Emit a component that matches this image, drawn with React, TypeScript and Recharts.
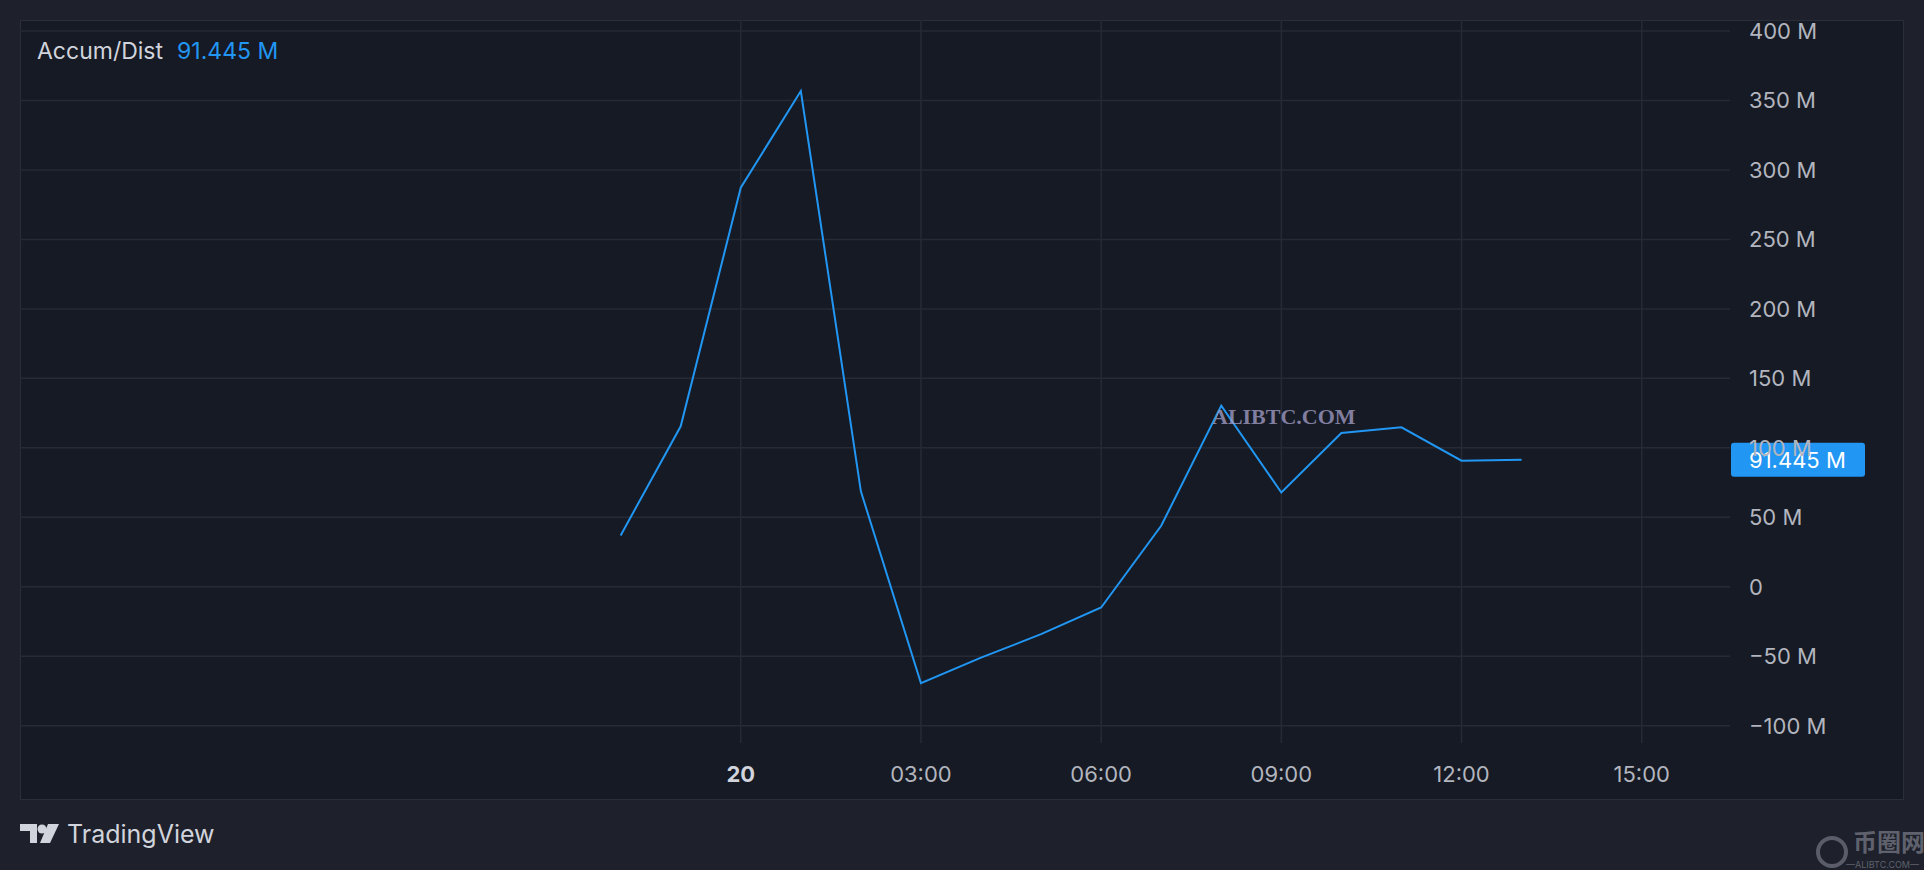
import { CartesianGrid, Line, LineChart, ReferenceLine, XAxis, YAxis } from 'recharts';

// hours relative to 00:00 on the 20th
const hours = [-2, -1, 0, 1, 2, 3, 4, 5, 6, 7, 8, 9, 10, 11, 12, 13];
const accumDist = [37.0, 115.5, 287.2, 356.8, 68.7, -69.4, -51.0, -34.1, -14.9, 43.9, 130.4, 67.9, 110.7, 114.8, 90.8, 91.445];
const timeTicks = [0, 3, 6, 9, 12, 15];
const valueTicks = [-100, -50, 0, 50, 100, 150, 200, 250, 300, 350, 400];
const lastValue = accumDist[accumDist.length - 1];

const data = hours.map((h, i) => ({ h, ad: accumDist[i] }));

const FONT = 'Inter, "Noto Sans", sans-serif';
const TEXT = '#b2b5be';
const BLUE = '#2196f3';
const GRID = '#262a35';

const fmtValue = (v: number) => (v === 0 ? '0' : `${v < 0 ? '\u2212' : ''}${Math.abs(v)}\u00a0M`);
const fmtTime = (h: number) => (h === 0 ? '20' : `${String(h).padStart(2, '0')}:00`);

function TimeTick({ x, y, payload }: any) {
  const bold = payload.value === 0;
  return (
    <text x={x} y={y + 31} textAnchor="middle" dominantBaseline="central" fill={bold ? '#d1d4dc' : TEXT} fontSize={22} fontWeight={bold ? 700 : 400} fontFamily={FONT}>
      {fmtTime(payload.value)}
    </text>
  );
}

function ValueTick({ x, y, payload }: any) {
  return (
    <text x={x} y={y} textAnchor="start" dominantBaseline="central" fill={TEXT} fontSize={22} fontFamily={FONT}>
      {fmtValue(payload.value)}
    </text>
  );
}

function PriceLabel({ viewBox }: any) {
  const x = viewBox.x + viewBox.width + 1;
  const y = viewBox.y;
  return (
    <g>
      <rect x={x} y={y - 17} width={134} height={34} rx={3} fill={BLUE} />
      <text x={x + 18} y={y} dominantBaseline="central" fill="#ffffff" fontSize={22} fontFamily={FONT}>
        {`${lastValue.toFixed(3)}\u00a0M`}
      </text>
    </g>
  );
}

export default function App() {
  return (
    <div style={{ position: 'absolute', left: 0, top: 0, width: 1924, height: 870, background: '#1e212b', overflow: 'hidden', fontFamily: FONT }}>
      <div style={{ position: 'absolute', left: 20, top: 20, width: 1882, height: 778, background: '#161a24', border: '1px solid #2a2e39' }} />
      <div style={{ position: 'absolute', left: 0, top: 0 }}>
        <LineChart width={1924} height={870} data={data} margin={{ top: 20, right: 24, bottom: 71, left: 20 }}>
          <CartesianGrid stroke={GRID} strokeWidth={1.5} syncWithTicks />
          <XAxis
            dataKey="h"
            type="number"
            domain={[-12, 16.47]}
            ticks={timeTicks}
            axisLine={false}
            tickLine={false}
            tickSize={0}
            tickMargin={0}
            height={56}
            tick={<TimeTick />}
            allowDataOverflow
          />
          <YAxis
            orientation="right"
            type="number"
            domain={[-112.4, 407.9]}
            ticks={valueTicks}
            axisLine={false}
            tickLine={false}
            tickSize={0}
            tickMargin={19}
            width={170}
            tick={<ValueTick />}
            allowDataOverflow
          />
          <ReferenceLine y={lastValue} stroke="none" label={<PriceLabel />} />
          <Line type="linear" dataKey="ad" stroke={BLUE} strokeWidth={2} dot={false} activeDot={false} isAnimationActive={false} />
        </LineChart>
      </div>
      <div style={{ position: 'absolute', left: 37, top: 37, fontSize: 23, color: '#d1d4dc', whiteSpace: 'nowrap' }}>
        Accum/Dist
        <span style={{ color: BLUE, marginLeft: 14 }}>91.445{'\u00a0'}M</span>
      </div>
      <div style={{ position: 'absolute', left: 1212, top: 404, fontFamily: '"Liberation Serif", serif', fontWeight: 700, fontSize: 22, color: 'rgba(165,160,200,0.75)' }}>
        ALIBTC.COM
      </div>
      <svg style={{ position: 'absolute', left: 20, top: 822 }} width={42} height={24}>
        <path d="M0 2 H17 V21 H10 V9 H0 Z" fill="#d1d4dc" />
        <circle cx={22} cy={7} r={4.5} fill="#d1d4dc" />
        <path d="M28 2 H39 L30 21 H20 Z" fill="#d1d4dc" />
      </svg>
      <div style={{ position: 'absolute', left: 67, top: 819, fontSize: 25, color: '#d1d4dc' }}>TradingView</div>
      <svg style={{ position: 'absolute', left: 1810, top: 826 }} width={114} height={44}>
        <circle cx={22} cy={26} r={14} fill="none" stroke="rgba(140,144,156,0.55)" strokeWidth={4} />
        <text x={43} y={25} fontSize={24} fontWeight={700} fill="rgba(140,144,156,0.6)" fontFamily='"Noto Sans CJK SC", sans-serif'>
          币圈网
        </text>
        <text x={36} y={42} fontSize={9} fill="rgba(140,144,156,0.6)" fontFamily={FONT}>
          —ALIBTC.COM—
        </text>
      </svg>
    </div>
  );
}
